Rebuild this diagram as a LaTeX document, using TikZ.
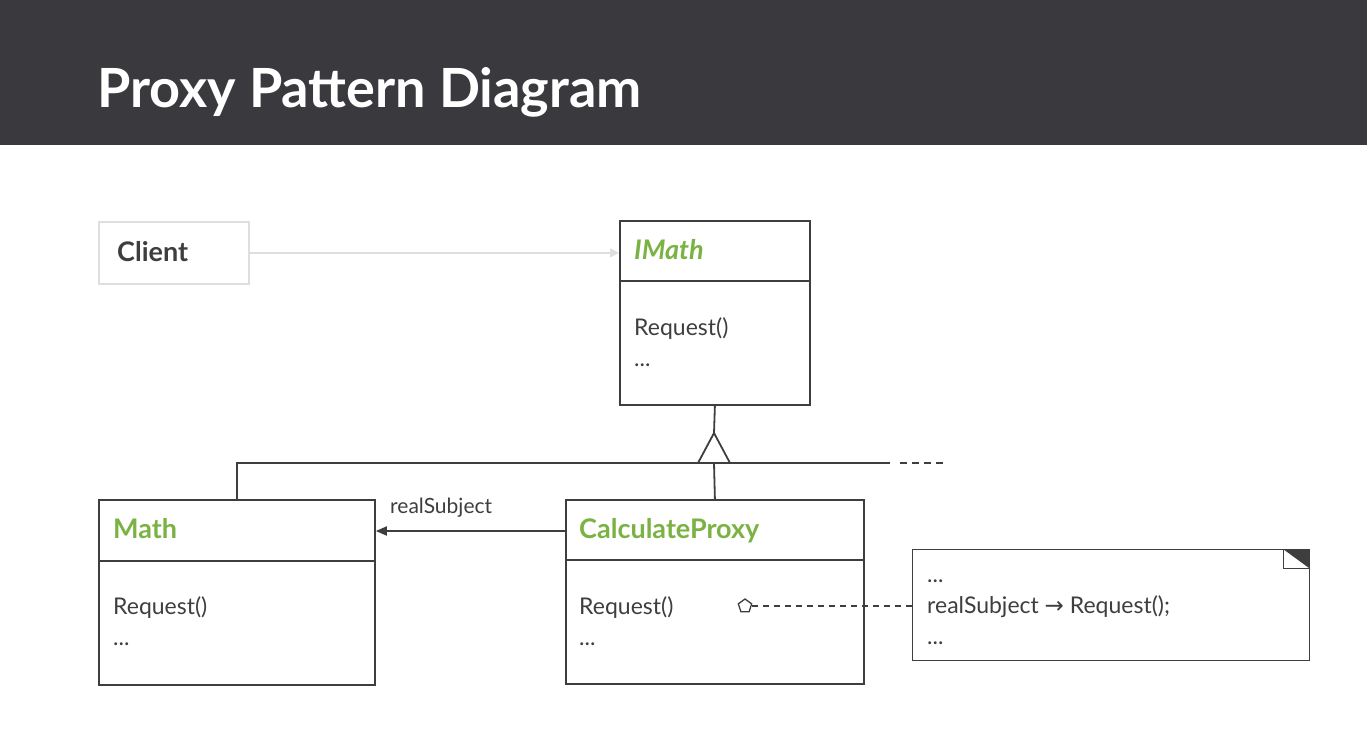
\documentclass[tikz,border=0pt]{standalone}
\usepackage{fontspec}
\setmainfont{Lato}
\newfontfamily\arrowfont{DejaVu Sans}
\usetikzlibrary{arrows.meta,shapes.geometric}
\definecolor{header}{RGB}{58,57,62}
\definecolor{green}{RGB}{122,178,68}
\definecolor{ink}{RGB}{62,62,62}
\definecolor{faint}{RGB}{222,222,222}

\begin{document}
\begin{tikzpicture}[x=1pt, y=-1pt,
  classbox/.style={draw=ink, line width=1.8, inner sep=0, anchor=north west},
  clsname/.style={anchor=base west, inner sep=0, text=green, font=\fontsize{27}{32}\selectfont\bfseries},
  txt/.style={anchor=base west, inner sep=0, text=ink, font=\fontsize{23}{27}\selectfont},
  conn/.style={draw=ink, line width=1.8}]
  \useasboundingbox (0,0) rectangle (1367,736);
  %% Header bar
  \fill[header] (0,0) rectangle (1367,145);
  \node[anchor=base west, inner sep=0, text=white, font=\fontsize{54}{64}\selectfont\bfseries] (title) at (97,107) {Proxy Pattern Diagram};

  %% Client
  \node[classbox, draw=faint, minimum width=150, minimum height=62] (client) at (98,221) {};
  \node[clsname, text=ink] (clientname) at (117,261) {Client};

  %% Interface
  \node[classbox, minimum width=190, minimum height=184] (imath) at (619,220) {};
  \draw[conn] ([yshift=-61pt]imath.north west) -- ([yshift=-61pt]imath.north east);
  \node[clsname] (imathname) at (634,259) {\itshape IMath};
  \node[txt] (imathop) at (634,335) {Request()};
  \node[txt] (imathdots) at (634,366) {...};
  \draw[faint, line width=1.5, -{Triangle[length=9pt,width=9pt]}] (client.east) -- (client.east -| imath.west);

  %% Real subject
  \node[classbox, minimum width=276, minimum height=185] (math) at (98,499) {};
  \draw[conn] ([yshift=-62pt]math.north west) -- ([yshift=-62pt]math.north east);
  \node[clsname] (mathname) at (113,538) {Math};
  \node[txt] (mathop) at (113,614) {Request()};
  \node[txt] (mathdots) at (113,645) {...};

  %% Proxy
  \node[classbox, minimum width=298, minimum height=184] (proxy) at (565,499) {};
  \draw[conn] ([yshift=-61pt]proxy.north west) -- ([yshift=-61pt]proxy.north east);
  \node[clsname] (proxyname) at (579,538) {CalculateProxy};
  \node[txt] (proxyop) at (579,614) {Request()};
  \node[txt] (proxydots) at (579,645) {...};

  %% Inheritance
  \coordinate (apex) at (714,433);
  \coordinate (bus) at (714,463);
  \draw[conn] (imath.south) -- (apex);
  \draw[conn, line join=miter] (apex) -- (698,463) -- (730,463) -- cycle;
  \draw[conn] (math.north) -- (math.north |- bus) -- (890,463);
  \draw[conn] (bus) -- (proxy.north);
  \draw[conn, dash pattern=on 7pt off 5pt] (900,463) -- (945,463);

  %% realSubject reference
  \draw[conn, -{Triangle[length=11pt,width=9pt]}] ([yshift=-32pt]proxy.north west) -- ([yshift=-32pt]math.north east);
  \node[txt, font=\fontsize{21}{25}\selectfont] (rslabel) at (390,513) {realSubject};

  %% Note
  \node[classbox, line width=1.4, minimum width=397, minimum height=111] (note) at (912,549) {};
  \fill[ink] (1283,549) -- (1309,549) -- (1309,568) -- cycle;
  \draw[conn, line width=1] (1283,549) -- (1283,568) -- (1309,568);
  \node[txt] (notedots) at (927,582) {...};
  \node[txt] (notecall) at (927,613) {realSubject\ {\arrowfont\fontsize{23}{26}\selectfont →}\ Request();};
  \node[txt] (noteend) at (927,644) {...};
  \node[regular polygon, regular polygon sides=5, draw=ink, line width=1.3, minimum size=14pt, inner sep=0] (hook) at (745,606) {};
  \draw[conn, line width=1.5, dash pattern=on 6pt off 5pt] (hook.east) -- (hook.east -| note.west);
\end{tikzpicture}
\end{document}
